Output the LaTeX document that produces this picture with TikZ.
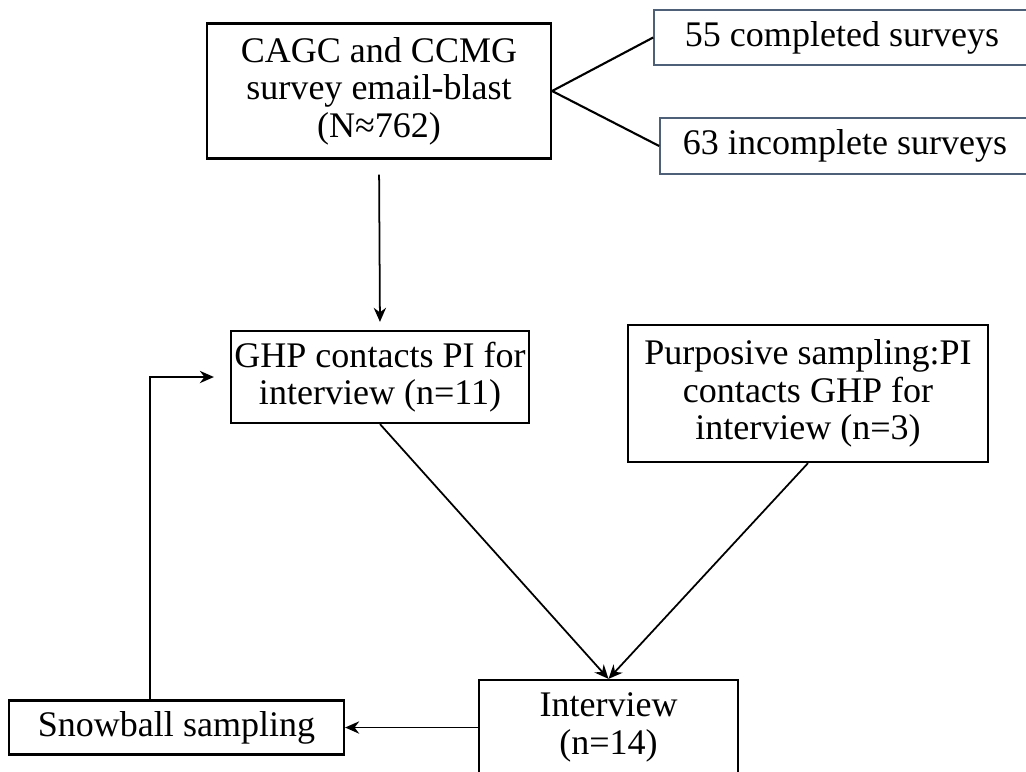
\documentclass[tikz,border=0pt]{standalone}
\usepackage{fontspec}
\setmainfont{Liberation Serif}
\usetikzlibrary{arrows.meta}

\definecolor{surveyedge}{RGB}{78,96,120}

\tikzset{
	box/.style={draw, line width=1.3pt, align=center, inner sep=0pt,
		font=\fontsize{20.5}{21.3}\selectfont},
	surveybox/.style={box, draw=surveyedge, line width=1pt},
	link/.style={line width=1.2pt},
	arr/.style={line width=1pt, -{Stealth[length=8pt,width=7pt]}}
}

\begin{document}
\begin{tikzpicture}[x=0.02cm,y=-0.02cm]
	\useasboundingbox (0,0) rectangle (1026,771);
	
	% survey boxes
	\node[box, minimum width=6.88cm, minimum height=2.7cm] (email) at (379,91)
		{CAGC and CCMG\\survey email-blast\\(N≈762)};
	\node[surveybox, minimum width=7.52cm, minimum height=1.1cm] (done) at (842,37.5)
		{55 completed surveys};
	\node[surveybox, minimum width=7.4cm, minimum height=1.12cm] (undone) at (845,146)
		{63 incomplete surveys};
	
	\draw[link] (email.east) -- (done.west);
	\draw[link] (email.east) -- (undone.west);
	
	% recruitment
	\node[box, minimum width=5.96cm, minimum height=1.84cm] (ghp) at (380,377)
		{GHP contacts PI for\\interview (n=11)};
	\node[box, minimum width=7.2cm, minimum height=2.74cm] (purp) at (808,393.5)
		{Purposive sampling:PI\\contacts GHP for\\interview (n=3)};
	\node[box, minimum width=5.18cm, minimum height=1.9cm] (interview) at (608.5,727.5)
		{Interview\\(n=14)};
	\node[box, minimum width=6.7cm, minimum height=1.08cm] (snow) at (176.5,727.5)
		{Snowball sampling};
	
	\draw[arr, shorten <=0.3cm, shorten >=0.16cm] (email.south) -- (ghp.north);
	\draw[arr] (ghp.south) -- (interview.north);
	\draw[arr] (purp.south) -- (interview.north);
	\draw[arr] (interview.west) -- (snow.east);
	
	\coordinate (bend) at (150,380);
	\draw[arr, shorten >=0.32cm] (snow.north -| bend) |- (ghp.west);
\end{tikzpicture}
\end{document}
